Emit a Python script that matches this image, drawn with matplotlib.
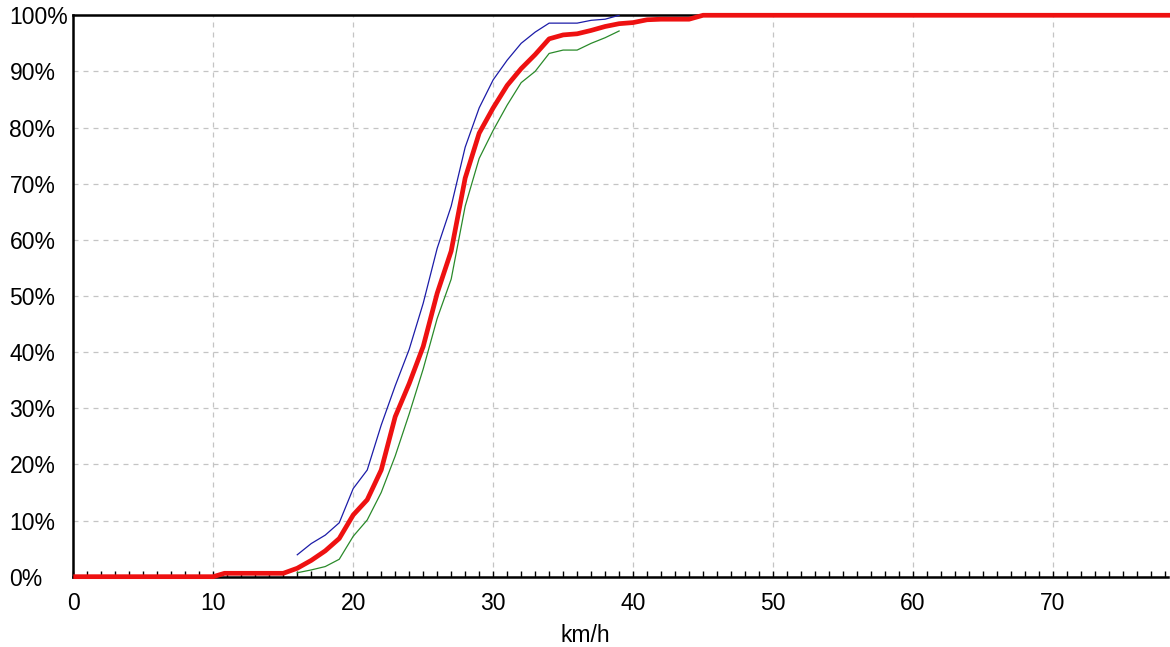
import numpy as np
import matplotlib.pyplot as plt
from matplotlib.ticker import MultipleLocator, PercentFormatter

plt.rcParams['font.family'] = ['Liberation Sans', 'DejaVu Sans']

# speed (km/h) and cumulative share (%)

mean_x = [0, 10, 10.8, 15, 16, 17, 18, 19, 20, 21, 22, 23, 24, 25, 26, 27, 28, 29,
          30, 31, 32, 33, 34, 35, 36, 37, 38, 39, 40, 41, 42, 43, 44, 45, 80]
mean_y = [0, 0, 0.6, 0.6, 1.5, 2.9, 4.6, 6.8, 11.0, 13.7, 19.0, 28.5, 34.4, 41.0, 50.5,
          58.0, 71.0, 79.0, 83.5, 87.5, 90.5, 93.0, 95.8, 96.5, 96.7, 97.3, 98.0, 98.5,
          98.7, 99.2, 99.3, 99.3, 99.3, 100, 100]

upper_x = [16, 17, 18, 19, 20, 21, 22, 23, 24, 25, 26, 27, 28, 29,
           30, 31, 32, 33, 34, 35, 36, 37, 38, 39]
upper_y = [3.9, 5.9, 7.4, 9.6, 15.7, 19.0, 27.0, 34.0, 40.5, 48.7, 58.5, 66.0, 76.5, 83.5,
           88.5, 92.0, 95.0, 97.0, 98.6, 98.6, 98.6, 99.1, 99.3, 100]

lower_x = [16, 17, 18, 19, 20, 21, 22, 23, 24, 25, 26, 27, 28, 29,
           30, 31, 32, 33, 34, 35, 36, 37, 38, 39]
lower_y = [0.7, 1.2, 1.8, 3.1, 7.2, 10.1, 15.0, 21.5, 29.0, 37.0, 46.0, 53.0, 66.0, 74.5,
           79.5, 84.0, 88.0, 90.0, 93.2, 93.8, 93.8, 95.0, 96.0, 97.2]

x_ticks = [0, 10, 20, 30, 40, 50, 60, 70]

fig = plt.figure(figsize=(11.7, 6.47), dpi=100)
ax = fig.add_axes([0.0627, 0.1087, 0.9353, 0.8677])

ax.plot(upper_x, upper_y, color='#1c1ca8', lw=0.9, zorder=3)
ax.plot(lower_x, lower_y, color='#2a8a2a', lw=0.9, zorder=3)
ax.plot(mean_x, mean_y, color='#ee1111', lw=3.4, zorder=4, clip_on=False,
        solid_capstyle='butt')

ax.set_xlim(0, 78.2)
ax.set_ylim(0, 100)

ax.set_xticks(x_ticks)
ax.xaxis.set_minor_locator(MultipleLocator(1))
ax.yaxis.set_major_locator(MultipleLocator(10))
ax.yaxis.set_major_formatter(PercentFormatter(decimals=0))

ax.tick_params(axis='x', which='both', direction='in', length=4, width=1,
               color='black', labelsize=16.5, pad=11)
ax.tick_params(axis='y', which='both', length=0, labelsize=16.5, pad=46)
for lbl in ax.get_yticklabels():
    lbl.set_horizontalalignment('left')
    lbl.set_verticalalignment('center_baseline')

ax.grid(True, which='major', color='#c4c4c4', linestyle=(0, (4, 4)), lw=0.9)
ax.set_axisbelow(True)

for side in ['left', 'bottom', 'top']:
    ax.spines[side].set_linewidth(1.8)
    ax.spines[side].set_color('black')
ax.spines['right'].set_visible(False)

fig.text(0.5, 5 / 647, 'km/h', ha='center', va='baseline', fontsize=16.5)

fig.savefig('out.png', dpi=100)
